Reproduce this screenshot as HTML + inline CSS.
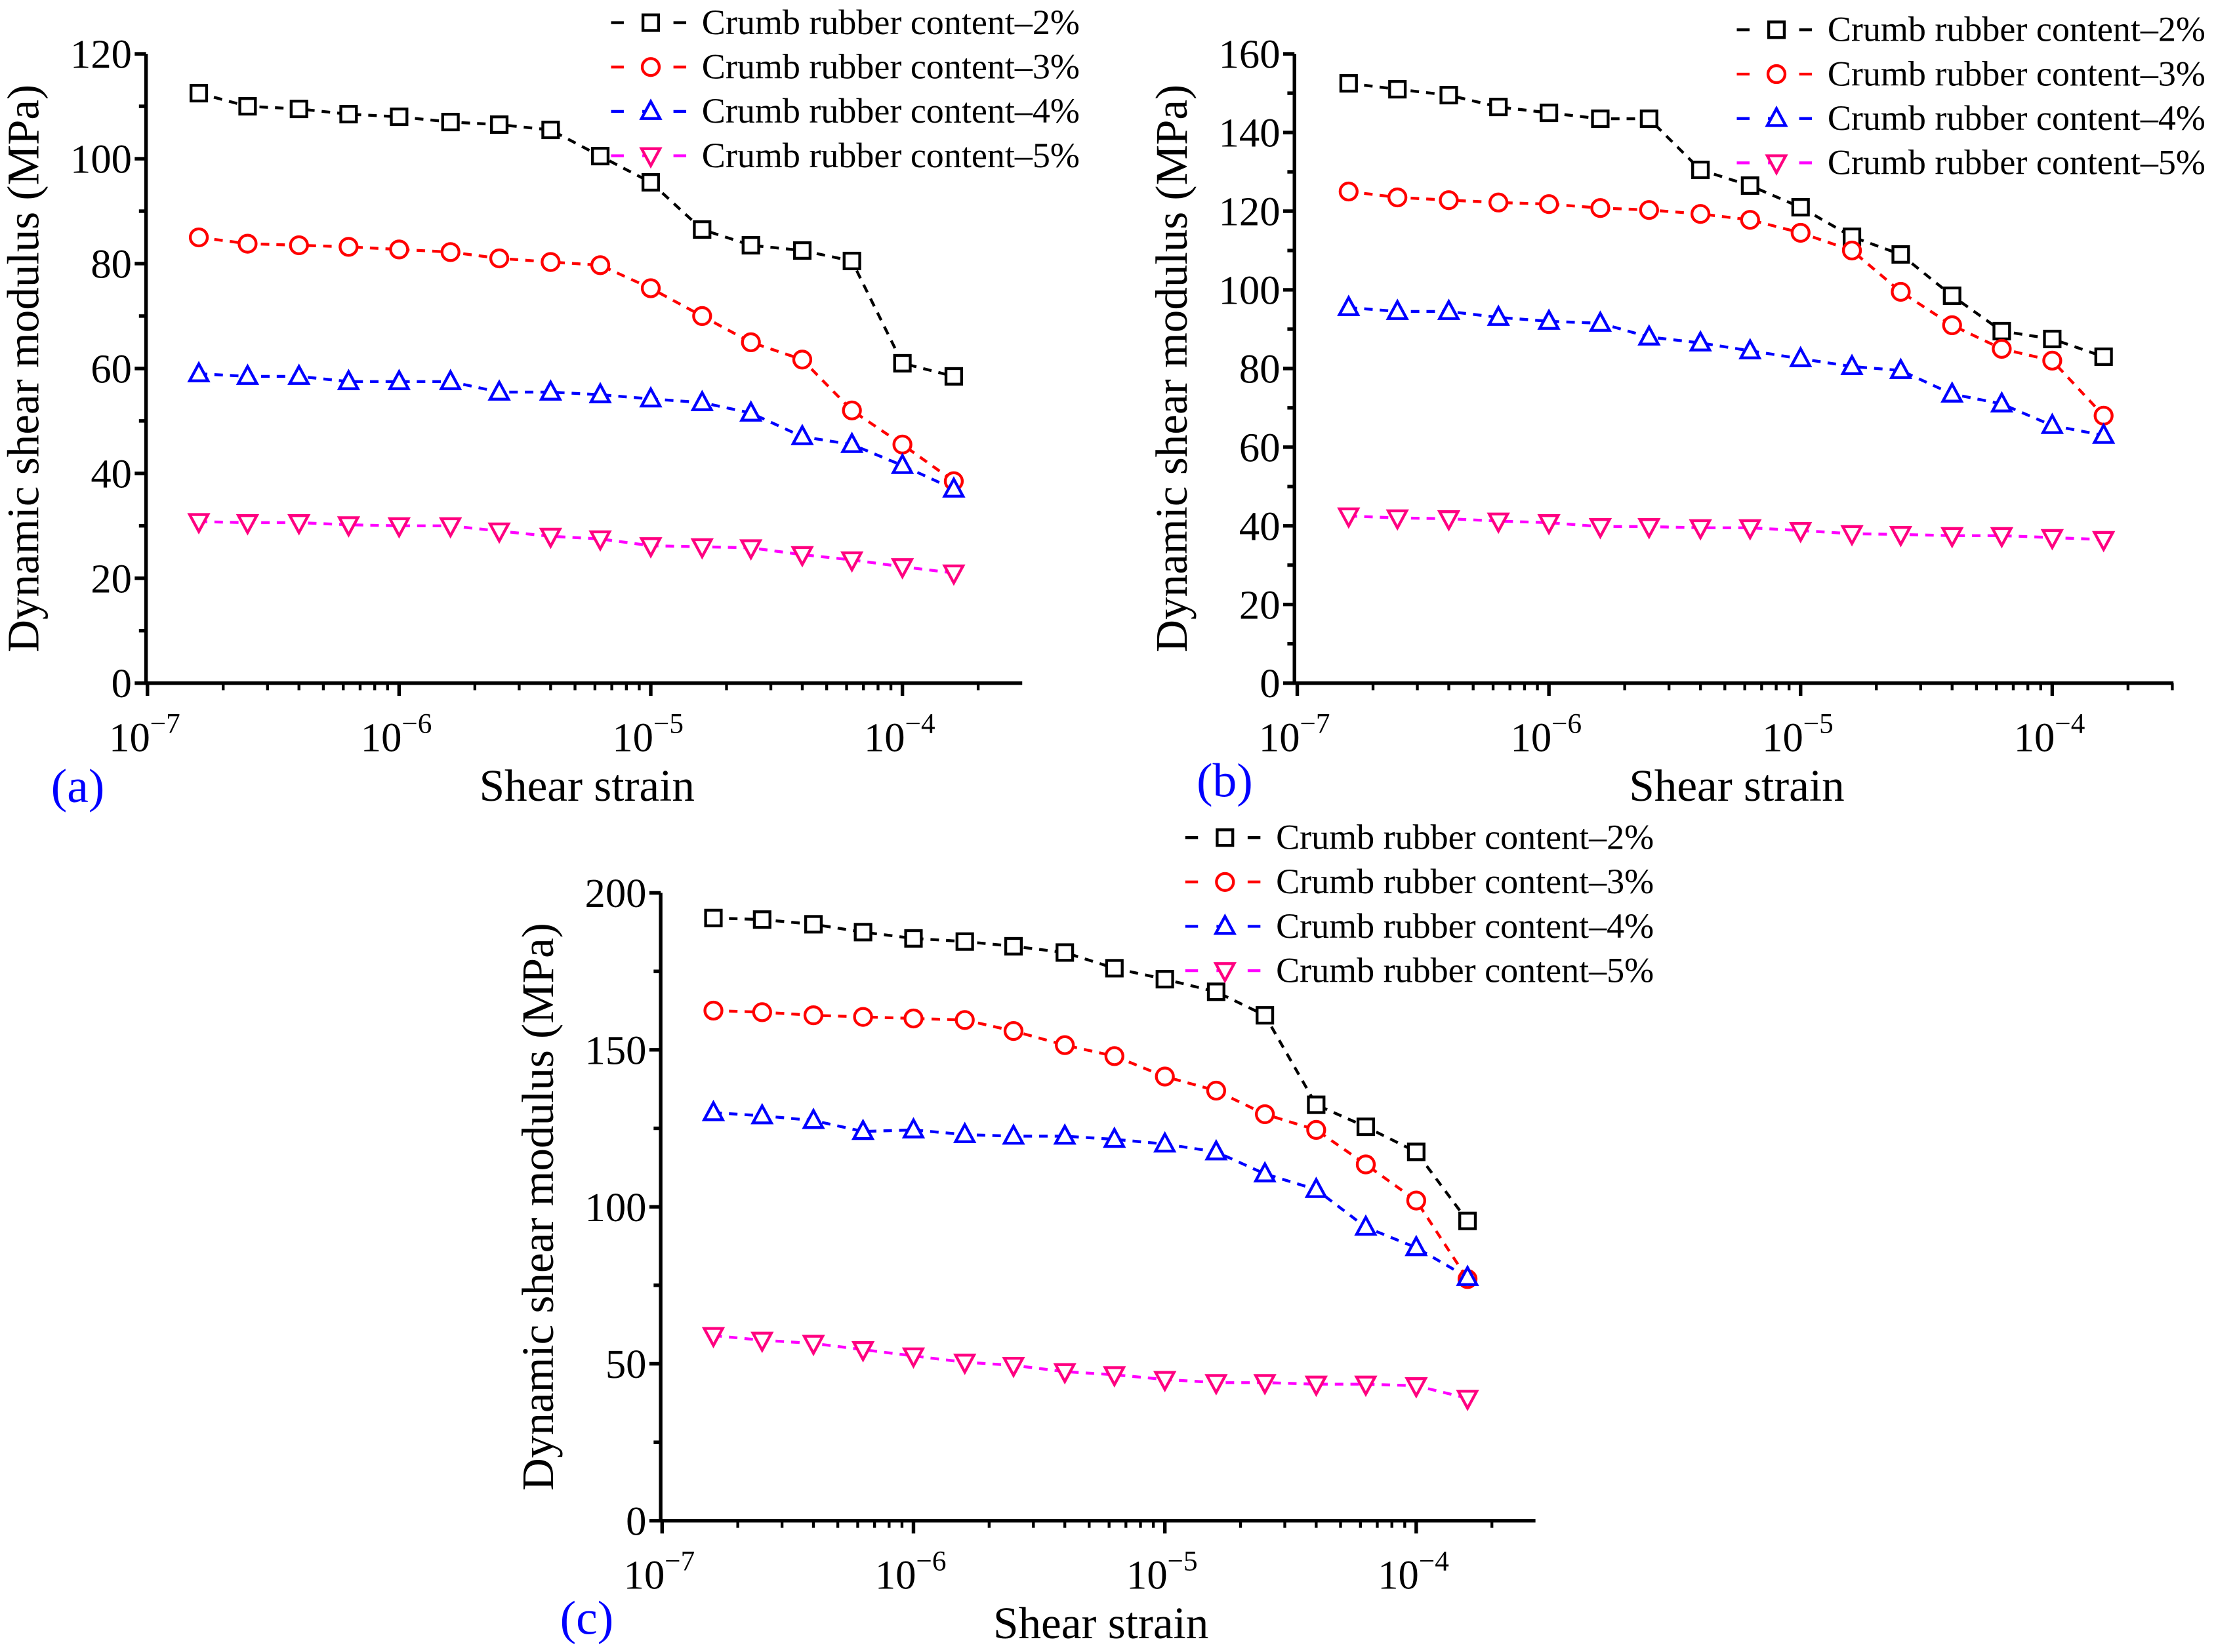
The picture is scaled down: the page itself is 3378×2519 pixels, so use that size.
<!DOCTYPE html>
<html><head><meta charset="utf-8"><style>
html,body{margin:0;padding:0;background:#fff;}
svg, svg text, svg tspan{font-family:"Liberation Serif","Times New Roman",Tinos,Times,"DejaVu Serif",serif !important;}
</style></head><body>
<svg id="fig" width="3378" height="2514" viewBox="0 0 1563 1163.3" preserveAspectRatio="none" xmlns="http://www.w3.org/2000/svg"></svg>
<script>
const strains=[1.6e-7,2.5e-7,4e-7,6.3e-7,1e-6,1.6e-6,2.5e-6,4e-6,6.3e-6,1e-5,1.6e-5,2.5e-5,4e-5,6.3e-5,1e-4,1.6e-4];
const seriesNames=["Crumb rubber content\u20132%","Crumb rubber content\u20133%","Crumb rubber content\u20134%","Crumb rubber content\u20135%"];
const a2=[112.5,110,109.5,108.5,108,107,106.5,105.5,100.5,95.5,86.5,83.5,82.5,80.5,61,58.5];
const a3=[85,83.8,83.5,83.2,82.7,82.2,81,80.3,79.7,75.3,70,65,61.7,52,45.5,38.5];
const a4=[59,58.5,58.5,57.5,57.5,57.5,55.5,55.5,55,54.2,53.5,51.5,47,45.5,41.5,37];
const a5=[30.8,30.6,30.6,30.2,30,30,29,28,27.5,26.2,26,25.8,24.5,23.5,22.2,21];
const b2=[152.5,151,149.5,146.5,145,143.5,143.5,130.5,126.5,121,113.5,109,98.5,89.5,87.5,83];
const b3=[125,123.5,122.8,122.2,121.8,120.8,120.3,119.3,117.8,114.5,110,99.5,91,85,82,68];
const b4=[95.5,94.5,94.5,93,92,91.5,88,86.5,84.5,82.5,80.5,79.5,73.5,71,65.5,63];
const b5=[42.5,42,41.8,41.2,40.8,39.8,39.8,39.5,39.5,38.8,38,37.8,37.5,37.5,37,36.5];
const c2=[192,191.5,190,187.5,185.5,184.5,183,181,176,172.5,168.5,161,132.5,125.5,117.5,95.5];
const c3=[162.5,162,161,160.5,160,159.5,156,151.5,148,141.5,137,129.5,124.5,113.5,102,77];
const c4=[130,129,127.5,124,124.5,123,122.5,122.5,121.5,120,117.5,110.5,105.5,93.5,87,77.5];
const c5=[59,57.5,56.5,54.5,52.5,50.5,49.5,47.5,46.5,45,44,44,43.5,43.5,43,39];
const yTicksA=[0,20,40,60,80,100,120];
const yTicksB=[0,20,40,60,80,100,120,140,160];
const yTicksC=[0,50,100,150,200];
const xExps=[-7,-6,-5,-4];

const NS="http://www.w3.org/2000/svg";
const svg=document.getElementById('fig');
const FF='"Liberation Serif","Times New Roman",Tinos,Times,serif';
function el(tag,attrs,parent,text){const e=document.createElementNS(NS,tag);for(const k in attrs)e.setAttribute(k,attrs[k]);if(tag==='text'||tag==='tspan'){e.setAttribute('font-family',FF);e.style.fontFamily=FF;}if(text!==undefined)e.textContent=text;(parent||svg).appendChild(e);return e;}
const lineCols=["#000","#ff0000","#0000ff","#ff00ff"];
const markCols=["#000","#ff0000","#0000ff","#ff0080"];
function marker(g,k,x,y){
  const s=6.5;let m;
  if(k===0)m=el('rect',{x:x-5.5,y:y-5.5,width:11,height:11},g);
  else if(k===1)m=el('circle',{cx:x,cy:y,r:6},g);
  else if(k===2)m=el('polygon',{points:`${x},${y-7} ${x-s},${y+5} ${x+s},${y+5}`},g);
  else m=el('polygon',{points:`${x},${y+7} ${x-s},${y-5} ${x+s},${y-5}`},g);
  m.setAttribute('fill','#fff');m.setAttribute('stroke',markCols[k]);m.setAttribute('stroke-width','2');
  
  
}
function panel(id,L,R,T,B,x0,dec,ymax,yTicks,data,legX,legY,label,labX,labY){
  const g=el('g',{});
  
  
  const X=v=>x0+(Math.log10(v)+7)*dec;
  const Y=v=>B-(v/ymax)*(B-T);
  const ax=el('path',{d:`M${L},${T} L${L},${B} L${R},${B}`,fill:'none',stroke:'#000','stroke-width':2.5},g);
  
  
  yTicks.forEach((t,i)=>{
    el('line',{x1:L-8,x2:L,y1:Y(t),y2:Y(t),stroke:'#000','stroke-width':2.5},g);
    const tl=el('text',{x:L-10,y:Y(t)+10,'text-anchor':'end','font-size':29},g,String(t));
    
    
    if(i<yTicks.length-1){const m=(t+yTicks[i+1])/2;el('line',{x1:L-5,x2:L,y1:Y(m),y2:Y(m),stroke:'#000','stroke-width':2.5},g);}
  });
  xExps.forEach(e=>{
    const x=X(Math.pow(10,e));
    el('line',{x1:x,x2:x,y1:B,y2:B+9,stroke:'#000','stroke-width':2.5},g);
    const tl=el('text',{x:x-2,y:B+48,'text-anchor':'middle','font-size':29},g);
    
    
    el('tspan',{},tl,'10');
    el('tspan',{dy:-13,'font-size':20},tl,'\u2212'+(-e));
    for(let m=2;m<10;m++){const v=m*Math.pow(10,e);const xm=X(v);if(xm<R)el('line',{x1:xm,x2:xm,y1:B,y2:B+5,stroke:'#000','stroke-width':2},g);}
  });
  const yt=el('text',{x:0,y:0,'text-anchor':'middle','font-size':32,transform:`translate(${L-76},${(T+B)/2}) rotate(-90)`},g,'Dynamic shear modulus (MPa)');
  
  
  const xt=el('text',{x:(L+R)/2+2,y:B+83,'text-anchor':'middle','font-size':32},g,'Shear strain');
  
  
  const pl=el('text',{x:labX,y:labY,'font-size':34,fill:'#0000ff'},g,label);
  
  
  data.forEach((vals,k)=>{
    const pts=vals.map((v,i)=>X(strains[i])+','+Y(v)).join(' ');
    const pl=el('polyline',{points:pts,fill:'none',stroke:lineCols[k],'stroke-width':2,'stroke-dasharray':'6,5'},g);
    
    
  });
  data.forEach((vals,k)=>{vals.forEach((v,i)=>marker(g,k,X(strains[i]),Y(v)));});
  seriesNames.forEach((n,k)=>{
    const y=legY+k*31.3;
    const lg=el('g',{},g);
    
    
    el('line',{x1:legX,x2:legX+56,y1:y,y2:y,stroke:lineCols[k],'stroke-width':2,'stroke-dasharray':'9,13'},lg);
    marker(lg,k,legX+28,y);
    el('text',{x:legX+64,y:y+8,'font-size':25},lg,n);
  });
}
panel('a',103,721,38,482,104,177.5,120,yTicksA,[a2,a3,a4,a5],431,16,'(a)',36,566);
panel('b',913,1533,38,482,915,177.5,160,yTicksB,[b2,b3,b4,b5],1225,21,'(b)',844,562);
panel('c',466,1083,630,1073,467,177.3,200,yTicksC,[c2,c3,c4,c5],836,591,'(c)',395,1153);
</script>
</body></html>
